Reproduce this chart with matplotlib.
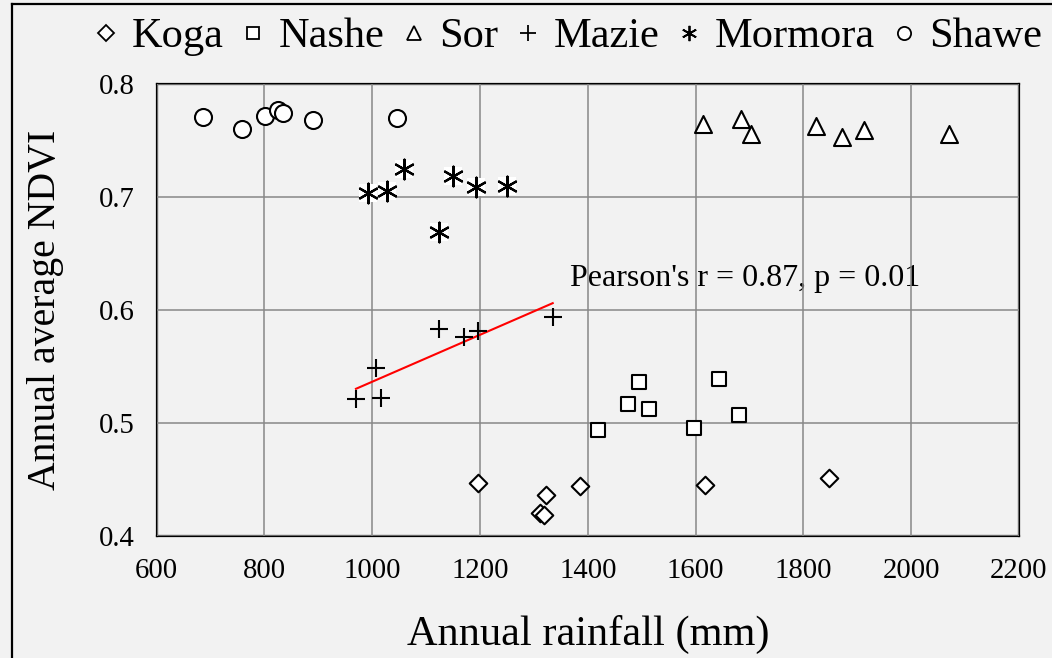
import numpy as np
import matplotlib
matplotlib.use('Agg')
import matplotlib.pyplot as plt
from matplotlib.lines import Line2D

plt.rcParams['font.family'] = ['Liberation Serif', 'DejaVu Serif']

# site data: annual rainfall (mm) and annual average NDVI
koga_x = [1197, 1322, 1311, 1318, 1386, 1618, 1847]
koga_y = [0.447, 0.436, 0.420, 0.419, 0.444, 0.445, 0.451]
nashe_x = [1495, 1474, 1514, 1419, 1598, 1644, 1680]
nashe_y = [0.536, 0.517, 0.512, 0.494, 0.496, 0.539, 0.507]
sor_x = [1614, 1684, 1703, 1823, 1872, 1913, 2070]
sor_y = [0.765, 0.769, 0.756, 0.763, 0.753, 0.759, 0.756]
mazie_x = [970, 1008, 1016, 1124, 1171, 1197, 1335]
mazie_y = [0.521, 0.549, 0.522, 0.583, 0.576, 0.581, 0.594]
mormora_x = [993, 1027, 1060, 1124, 1150, 1192, 1250]
mormora_y = [0.704, 0.705, 0.725, 0.669, 0.719, 0.709, 0.710]
shawe_x = [687, 758, 801, 825, 834, 891, 1046]
shawe_y = [0.771, 0.760, 0.772, 0.777, 0.774, 0.768, 0.770]

stat_text = "Pearson's r = 0.87, p = 0.01"
bg = '#f2f2f2'

fig = plt.figure(figsize=(10.52, 6.58), dpi=100, facecolor=bg)
ax = fig.add_axes([0.1488, 0.1854, 0.8198, 0.6869], facecolor=bg)

mk = dict(facecolor='white', edgecolor='black', linewidths=1.5, zorder=4)
ax.scatter(koga_x, koga_y, marker='D', s=80, **mk)
ax.scatter(nashe_x, nashe_y, marker='s', s=110, **mk)
ax.scatter(sor_x, sor_y, marker='^', s=150, **mk)
ax.scatter(mazie_x, mazie_y, marker='+', s=150, color='black', linewidths=1.5, zorder=4)
# white box behind the asterisks
ax.scatter(mormora_x, mormora_y, marker='s', s=170, color='white', linewidths=0, zorder=3)
ax.scatter(mormora_x, mormora_y, marker=(6, 2, 0), s=200, color='black', linewidths=1.6, zorder=4)
ax.scatter(shawe_x, shawe_y, marker='o', s=150, **mk)

# linear trend for Mazie
coef = np.polyfit(mazie_x, mazie_y, 1)
xx = np.array([min(mazie_x), max(mazie_x)])
ax.plot(xx, np.polyval(coef, xx), color='red', lw=1.5, zorder=3)

ax.text(1367, 0.628, stat_text, fontsize=23, va='center', ha='left', zorder=1)

ax.set_xlim(600, 2200)
ax.set_ylim(0.4, 0.8)
ax.set_xticks(np.arange(600, 2201, 200))
ax.set_yticks([0.4, 0.5, 0.6, 0.7, 0.8])
ax.set_yticklabels(['0.4', '0.5', '0.6', '0.7', '0.8'])
ax.grid(True, color='#888888', lw=1.1, zorder=2)
ax.set_axisbelow(False)
ax.tick_params(length=0, labelsize=20.7, pad=16)
for sp in ax.spines.values():
    sp.set_linewidth(1.6)

ax.set_xlabel('Annual rainfall (mm)', fontsize=30.5, labelpad=22)
ax.set_ylabel('Annual average NDVI', fontsize=28.6, labelpad=25)

handles = [
    Line2D([], [], marker='D', ls='', mfc='white', mec='black', mew=1.3, ms=8),
    Line2D([], [], marker='s', ls='', mfc='white', mec='black', mew=1.3, ms=8.5),
    Line2D([], [], marker='^', ls='', mfc='white', mec='black', mew=1.3, ms=9.5),
    Line2D([], [], marker='+', ls='', color='black', mew=1.3, ms=11),
    Line2D([], [], marker=(6, 2, 0), ls='', color='black', mew=1.3, ms=11),
    Line2D([], [], marker='o', ls='', mfc='white', mec='black', mew=1.3, ms=9.5),
]
labels = ['Koga', 'Nashe', 'Sor', 'Mazie', 'Mormora', 'Shawe']
fig.legend(handles, labels, loc='center', bbox_to_anchor=(568 / 1052, 1 - 37 / 658),
           ncol=6, frameon=False, fontsize=30.5, handlelength=0.6, handletextpad=0.3,
           columnspacing=0.4)

# outer frame (left and top edges only visible)
fig.add_artist(Line2D([12 / 1052, 12 / 1052], [0, 1 - 4 / 658], color='black', lw=1.6))
fig.add_artist(Line2D([12 / 1052, 1], [1 - 4 / 658, 1 - 4 / 658], color='black', lw=1.6))

fig.savefig('out.png', dpi=100, facecolor=bg)
